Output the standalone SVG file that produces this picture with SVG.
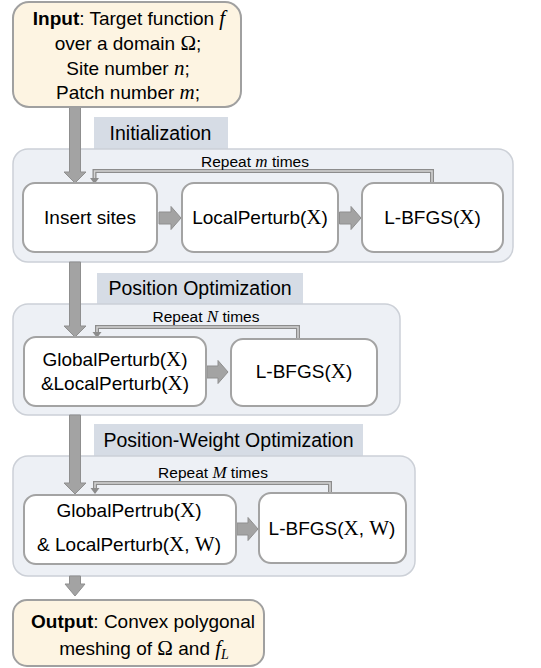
<svg xmlns="http://www.w3.org/2000/svg" width="541" height="668" viewBox="0 0 541 668">
<style>
.t{font-family:"Liberation Sans",Arial,sans-serif;font-size:19px;fill:#000;text-anchor:middle}
.l{font-family:"Liberation Sans",Arial,sans-serif;font-size:19.5px;fill:#000;text-anchor:middle}
.r{font-family:"Liberation Sans",Arial,sans-serif;font-size:15.5px;fill:#000;text-anchor:middle}
.m{font-family:"Liberation Serif","Times New Roman",serif;font-style:italic}
.u{font-family:"Liberation Serif","Times New Roman",serif}
.io{fill:#fdf4e2;stroke:#a0a0a0;stroke-width:2}
.panel{fill:#edf0f5;stroke:#ccd0d7;stroke-width:1.5}
.lab{fill:#d6dce5}
.box{fill:#fff;stroke:#a3a3a3;stroke-width:2}
.big{fill:#a3a3a3;stroke:#8f8f8f;stroke-width:1}
.loopo{fill:none;stroke:#8c8c8c;stroke-width:4}
.loopi{fill:none;stroke:#d4d4d4;stroke-width:1.5}
</style>

<g id="panel-init">
<rect class="lab" x="94" y="117" width="134" height="32"/>
<text class="l" x="160.5" y="140">Initialization</text>
<rect class="panel" x="13" y="149" width="500" height="113" rx="15"/>
</g>
<g id="panel-pos">
<rect class="lab" x="97" y="273" width="206" height="31"/>
<text class="l" x="200" y="295">Position Optimization</text>
<rect class="panel" x="13" y="304" width="387" height="111" rx="15"/>
</g>
<g id="panel-pw">
<rect class="lab" x="94" y="424" width="269" height="32"/>
<text class="l" x="228.5" y="447">Position-Weight Optimization</text>
<rect class="panel" x="13" y="456" width="402" height="120" rx="15"/>
</g>

<g id="connectors">
<polygon class="big" points="69.5,107 80.5,107 80.5,172 86,172 75,183 64,172 69.5,172"/>
<polygon class="big" points="69.5,262 80.5,262 80.5,326 86,326 75,337 64,326 69.5,326"/>
<polygon class="big" points="69.5,415 80.5,415 80.5,483 86,483 75,494 64,483 69.5,483"/>
<polygon class="big" points="69.5,576 80.5,576 80.5,584 85,584 75,596 65,584 69.5,584"/>
<polygon class="big" points="159,212 171,212 171,206.5 181,218 171,229.5 171,224 159,224"/>
<polygon class="big" points="339.5,212 351,212 351,206.5 361,218 351,229.5 351,224 339.5,224"/>
<polygon class="big" points="207,366 218,366 218,360.5 228,372 218,383.5 218,378 207,378"/>
<polygon class="big" points="237,523 248,523 248,517.5 258,529 248,540.5 248,535 237,535"/>
<path class="loopo" d="M432,183 V171 H94.5 V179"/>
<path class="loopi" d="M432,183 V171 H94.5 V179"/>
<polygon points="90,178 99,178 94.5,184" fill="#8c8c8c"/>
<path class="loopo" d="M298,338 V327 H97 V333"/>
<path class="loopi" d="M298,338 V327 H97 V333"/>
<polygon points="92.5,332 101.5,332 97,338" fill="#8c8c8c"/>
<path class="loopo" d="M330,493 V483 H95 V489"/>
<path class="loopi" d="M330,493 V483 H95 V489"/>
<polygon points="90.5,488 99.5,488 95,494" fill="#8c8c8c"/>
</g>

<g id="repeat-labels">
<text class="r" x="255" y="167">Repeat <tspan class="m" font-size="17">m</tspan> times</text>
<text class="r" x="206" y="322">Repeat <tspan class="m" font-size="17">N</tspan> times</text>
<text class="r" x="213" y="478">Repeat <tspan class="m" font-size="17">M</tspan> times</text>
</g>

<g id="input">
<rect class="io" x="13" y="2" width="228" height="105" rx="16"/>
<text class="t" x="129" y="25"><tspan font-weight="bold">Input</tspan>: Target function  <tspan class="m" font-size="21">f</tspan></text>
<text class="t" x="128" y="50">over a domain <tspan class="u" font-size="21">Ω</tspan>;</text>
<text class="t" x="128" y="75">Site number <tspan class="m" font-size="21">n</tspan>;</text>
<text class="t" x="128" y="99">Patch number <tspan class="m" font-size="21">m</tspan>;</text>
</g>

<g id="insert-sites">
<rect class="box" x="23" y="183" width="134" height="69" rx="12"/>
<text class="t" x="90" y="224">Insert sites</text>
</g>
<g id="local-perturb-1">
<rect class="box" x="182" y="183" width="156" height="69" rx="12"/>
<text class="t" x="260" y="224">LocalPerturb(<tspan class="u" font-size="21">X</tspan>)</text>
</g>
<g id="lbfgs-1">
<rect class="box" x="362" y="183" width="141" height="69" rx="12"/>
<text class="t" x="432.5" y="224">L-BFGS(<tspan class="u" font-size="21">X</tspan>)</text>
</g>

<g id="global-local-perturb">
<rect class="box" x="24" y="337" width="182" height="69" rx="12"/>
<text class="t" x="115" y="366">GlobalPerturb(<tspan class="u" font-size="21">X</tspan>)</text>
<text class="t" x="115" y="390">&amp;LocalPerturb(<tspan class="u" font-size="21">X</tspan>)</text>
</g>
<g id="lbfgs-2">
<rect class="box" x="231" y="339" width="146" height="67" rx="12"/>
<text class="t" x="304" y="378">L-BFGS(<tspan class="u" font-size="21">X</tspan>)</text>
</g>

<g id="global-local-perturb-w">
<rect class="box" x="24" y="495" width="212" height="69" rx="12"/>
<text class="t" x="129" y="517">GlobalPertrub(<tspan class="u" font-size="21">X</tspan>)</text>
<text class="t" x="129" y="551">&amp; LocalPerturb(<tspan class="u" font-size="21">X</tspan>, <tspan class="u" font-size="21">W</tspan>)</text>
</g>
<g id="lbfgs-3">
<rect class="box" x="259" y="493" width="147" height="70" rx="12"/>
<text class="t" x="332" y="535">L-BFGS(<tspan class="u" font-size="21">X</tspan>, <tspan class="u" font-size="21">W</tspan>)</text>
</g>

<g id="output">
<rect class="io" x="13" y="600" width="251" height="66" rx="14"/>
<text class="t" x="143" y="628"><tspan font-weight="bold">Output</tspan>: Convex polygonal</text>
<text class="t" x="144" y="655">meshing of <tspan class="u" font-size="21">Ω</tspan> and <tspan class="m" font-size="21">f</tspan><tspan class="m" font-size="14" dy="4">L</tspan></text>
</g>
</svg>
